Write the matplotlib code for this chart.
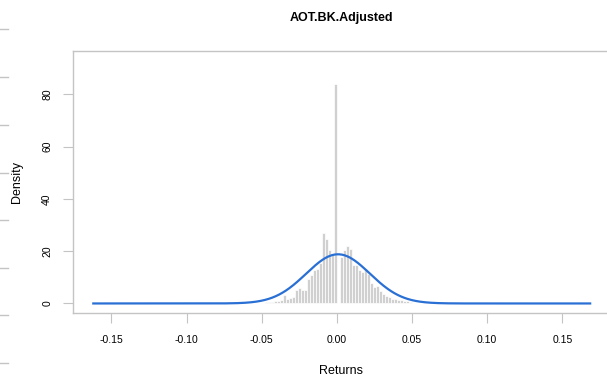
"""Histogram of daily returns with a fitted normal curve (R-style)."""

import numpy as np
import matplotlib.pyplot as plt
from matplotlib.lines import Line2D

BAR_GRAY = "#d0d0d0"
BOX_GRAY = "#c4c4c4"
CURVE_BLUE = "#2a70d4"

BIN_WIDTH = 0.002
# bin centres and density heights
bin_centers = [round(-0.049 + 0.002 * i, 3) for i in range(50)]
bin_heights = [
    0.3, 0.4, 0.5, 0.6, 0.8, 1.0, 1.3, 3.4, 1.8, 2.2,
    2.5, 5.0, 6.0, 5.0, 5.3, 9.5, 10.8, 12.7, 13.3, 15.5,
    26.8, 24.5, 20.4, 18.5, 84.0, 0.0, 17.8, 20.4, 22.0, 21.0,
    14.6, 14.6, 12.7, 12.0, 13.3, 11.4, 7.8, 6.3, 6.5, 4.7,
    3.5, 3.0, 2.4, 1.8, 1.8, 1.4, 1.2, 0.9, 0.8, 0.5,
]

# fitted normal: mean/sd of the returns, curve drawn over the data range
ret_mean = 0.0008
ret_sd = 0.0212
ret_min = -0.162
ret_max = 0.1685

x_ticks = [-0.15, -0.10, -0.05, 0.00, 0.05, 0.10, 0.15]
y_ticks = [0, 20, 40, 60, 80]


def main():
    plt.rcParams.update({
        "font.family": ["Liberation Sans", "DejaVu Sans"],
        "font.size": 7.5,
    })
    W, H = 607, 379
    fig = plt.figure(figsize=(W / 100, H / 100), dpi=100)
    left, right, top, bottom = 73, 610, 51, 313
    ax = fig.add_axes([left / W, 1 - bottom / H, (right - left) / W, (bottom - top) / H])

    ax.bar(bin_centers, bin_heights, width=BIN_WIDTH, color=BAR_GRAY,
           edgecolor="white", linewidth=0.5)

    xs = np.linspace(ret_min, ret_max, 600)
    dens = np.exp(-0.5 * ((xs - ret_mean) / ret_sd) ** 2) / (ret_sd * np.sqrt(2 * np.pi))
    ax.plot(xs, dens, color=CURVE_BLUE, linewidth=1.6)

    ax.set_xlim(-0.1755, 0.1817)
    ax.set_ylim(-3.65, 96.6)
    ax.set_xticks(x_ticks)
    ax.set_xticklabels([f"{t:.2f}" for t in x_ticks])
    ax.set_yticks(y_ticks)
    ax.set_yticklabels([str(t) for t in y_ticks], rotation=90, va="center")
    ax.tick_params(axis="both", color=BOX_GRAY, length=7, width=0.8, labelsize=7.5)
    ax.tick_params(axis="x", pad=9)
    ax.tick_params(axis="y", pad=8)
    for side in ("left", "top", "bottom", "right"):
        ax.spines[side].set_color(BOX_GRAY)
        ax.spines[side].set_linewidth(1.0)

    ax.set_xlabel("Returns", fontsize=9, labelpad=14)
    ax.set_ylabel("Density", fontsize=9, labelpad=14)
    fig.text(341 / W, 1 - 18 / H, "AOT.BK.Adjusted", ha="center", va="center",
             fontsize=9, fontweight="bold")

    # stray axis ticks of a neighbouring plot at the left edge of the screenshot
    for yp in [29, 77, 125, 173, 220, 268, 315, 363]:
        fig.add_artist(Line2D([0, 8 / W], [1 - yp / H, 1 - yp / H],
                              color=BOX_GRAY, linewidth=1.0))

    fig.savefig("out.png", dpi=100)
    plt.close(fig)


if __name__ == "__main__":
    main()
